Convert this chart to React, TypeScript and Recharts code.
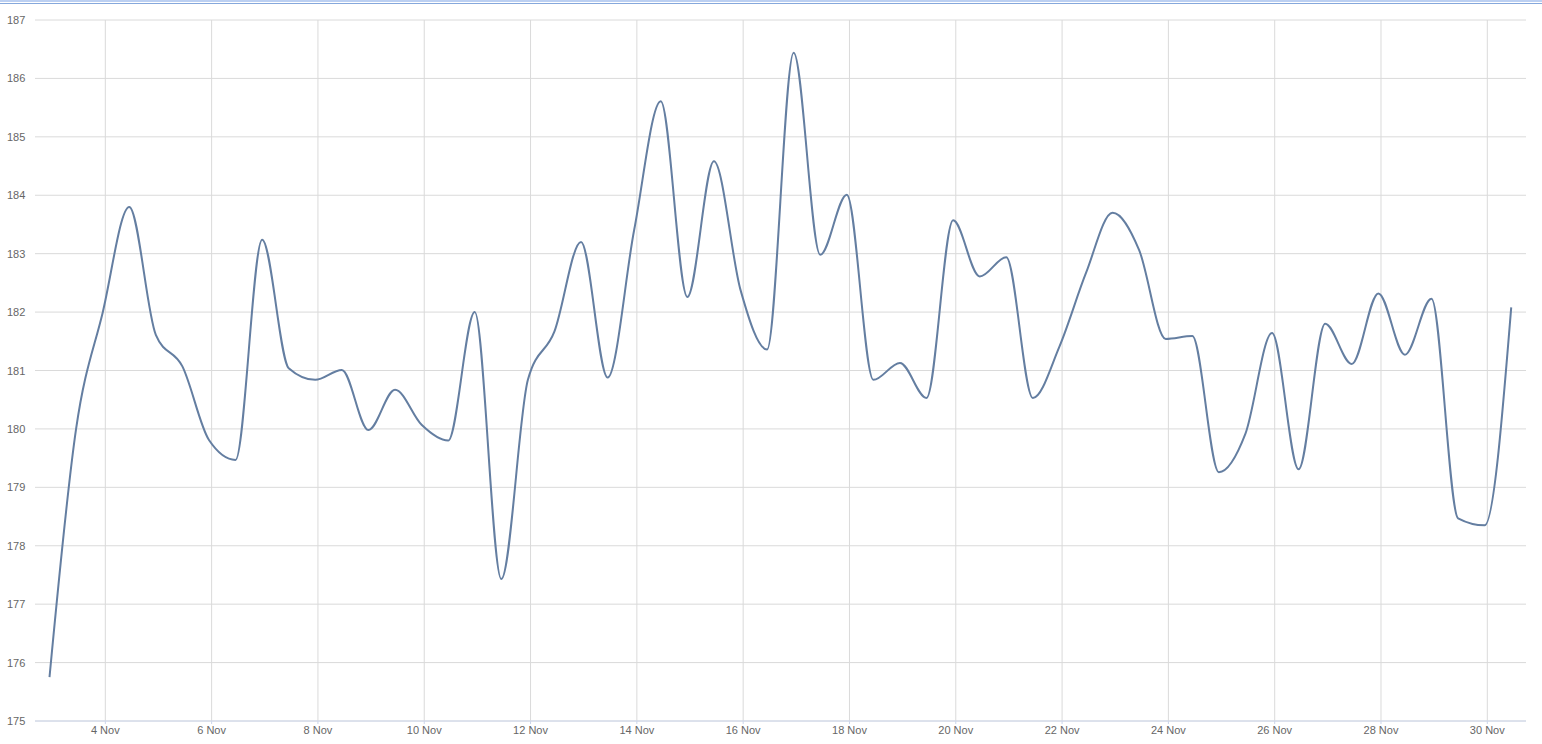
import React from "react";
import { LineChart, Line, XAxis, YAxis, CartesianGrid } from "recharts";

// Sample times: every 12 hours, expressed as day-of-November
const startDay = 2.95;
const stepDays = 0.5;

// Series values
const values = [
  175.75, 180.0, 181.99, 183.8, 181.61, 181.07, 179.81, 179.47, 183.24, 181.04,
  180.84, 181.01, 179.98, 180.67, 180.07, 179.8, 182.0, 177.43, 180.84, 181.67,
  183.2, 180.88, 183.41, 185.61, 182.26, 184.58, 182.38, 181.36, 186.44, 182.98,
  184.01, 180.84, 181.13, 180.53, 183.57, 182.61, 182.94, 180.53, 181.41, 182.67,
  183.7, 183.06, 181.54, 181.59, 179.26, 179.92, 181.64, 179.31, 181.8, 181.11,
  182.32, 181.27, 182.23, 178.47, 178.35, 182.08,
];

const xTicks = [4, 6, 8, 10, 12, 14, 16, 18, 20, 22, 24, 26, 28, 30];
const yTicks = [175, 176, 177, 178, 179, 180, 181, 182, 183, 184, 185, 186, 187];
const monthLabel = "Nov";
const xDomain: [number, number] = [2.677, 30.728];

const data = values.map((v, i) => ({ t: startDay + stepDays * i, v }));

const FONT = "'Liberation Sans', Arial, sans-serif";

const YTick = (props: any) => {
  const { y, payload } = props;
  return (
    <text x={7} y={y} dy={4} textAnchor="start" fill="#666666" fontSize={11} fontFamily={FONT}>
      {payload.value}
    </text>
  );
};

const verticalGen = (args: any) => {
  const off = args && args.offset ? args.offset : { left: 35, width: 1491 };
  const left = off.left ?? 35;
  const w = off.width ?? 1491;
  return xTicks.map(
    (t) => left + ((t - xDomain[0]) / (xDomain[1] - xDomain[0])) * w
  );
};

export default function App() {
  return (
    <div style={{ position: "absolute", left: 0, top: 0, width: 1542, height: 744, background: "#fff" }}>
      <div style={{ position: "absolute", left: 0, top: 0, width: 1542, height: 2, background: "#bcd0f2" }} />
      <div style={{ position: "absolute", left: 0, top: 3, width: 1542, height: 1, background: "#86a8dc" }} />
      <LineChart
        width={1542}
        height={744}
        data={data}
        margin={{ top: 20, right: 16, bottom: 0, left: 0 }}
      >
        <CartesianGrid stroke="#dadada" strokeWidth={1} verticalCoordinatesGenerator={verticalGen} />
        <XAxis
          dataKey="t"
          type="number"
          domain={xDomain}
          ticks={xTicks}
          tickFormatter={(d: number) => `${d} ${monthLabel}`}
          interval={0}
          height={23}
          tickSize={3}
          tickMargin={2}
          stroke="#ccd6eb"
          axisLine={{ stroke: "#ccd6eb" }}
          tickLine={{ stroke: "#ccd6eb" }}
          tick={{ fill: "#666666", fontSize: 11, fontFamily: FONT }}
          allowDataOverflow
        />
        <YAxis
          type="number"
          domain={[175, 187]}
          ticks={yTicks}
          interval={0}
          width={35}
          axisLine={false}
          tickLine={false}
          tick={<YTick />}
          allowDataOverflow
        />
        <Line
          type="monotone"
          dataKey="v"
          stroke="#647ea1"
          strokeWidth={2}
          dot={false}
          activeDot={false}
          isAnimationActive={false}
        />
      </LineChart>
    </div>
  );
}
